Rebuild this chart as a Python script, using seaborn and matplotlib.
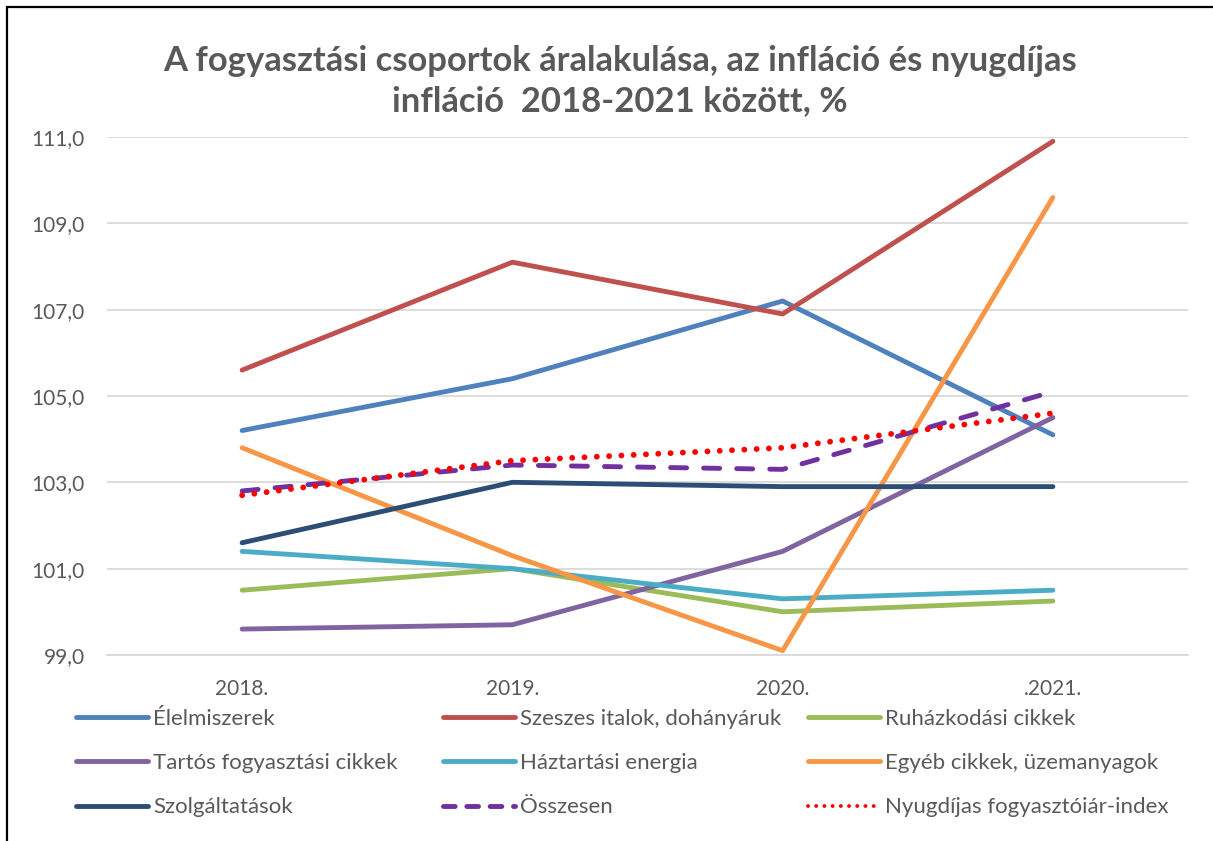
import matplotlib
matplotlib.use("Agg")
import matplotlib.pyplot as plt
import seaborn as sns
import pandas as pd
from matplotlib.lines import Line2D
from matplotlib.patches import Rectangle

years = ["2018.", "2019.", "2020.", ".2021."]

elelmiszerek = [104.2, 105.4, 107.2, 104.1]
szeszes = [105.6, 108.1, 106.9, 110.9]
ruhazkodasi = [100.5, 101.0, 100.0, 100.25]
tartos = [99.6, 99.7, 101.4, 104.5]
haztartasi = [101.4, 101.0, 100.3, 100.5]
egyeb = [103.8, 101.3, 99.1, 109.6]
szolgaltatasok = [101.6, 103.0, 102.9, 102.9]
osszesen = [102.8, 103.4, 103.3, 105.1]
nyugdijas = [102.7, 103.5, 103.8, 104.6]

series_names = ["Élelmiszerek", "Szeszes italok, dohányáruk", "Ruházkodási cikkek",
                "Tartós fogyasztási cikkek", "Háztartási energia", "Egyéb cikkek, üzemanyagok",
                "Szolgáltatások", "Összesen", "Nyugdíjas fogyasztóiár-index"]
series_values = [elelmiszerek, szeszes, ruhazkodasi, tartos, haztartasi, egyeb,
                 szolgaltatasok, osszesen, nyugdijas]
colors = ["#4F81BD", "#C0504D", "#9BBB59", "#8064A2", "#4BACC6", "#F79646",
          "#2C4D75", "#7030A0", "#FF0000"]
styles = ["solid"] * 7 + ["dashed", "dotted"]

yticks = [99, 101, 103, 105, 107, 109, 111]

rows = []
for name, vals in zip(series_names, series_values):
    for i, v in enumerate(vals):
        rows.append({"series": name, "pos": i, "value": v})
df = pd.DataFrame(rows)

sns.set_theme(style="white")
plt.rcParams["font.family"] = ["Lato", "DejaVu Sans"]

fig = plt.figure(figsize=(12.13, 8.41), dpi=100)
ax = fig.add_axes([0.0882, 0.2212, 0.9794 - 0.0882, 0.8371 - 0.2212])

LW = 3.5
handles = {}
for name, col, st in zip(series_names, colors, styles):
    sub = df[df["series"] == name]
    sns.lineplot(data=sub, x="pos", y="value", ax=ax, color=col, linewidth=LW,
                 legend=False, zorder=3)
    ln = ax.lines[-1]
    ln.set_solid_capstyle("round")
    ln.set_solid_joinstyle("round")
    ln.set_dash_capstyle("round")
    if st == "dashed":
        ln.set_dashes((3.3, 3.5))
    elif st == "dotted":
        ln.set_linewidth(4.2)
        ln.set_dashes((0.01, 2.1))
    h = Line2D([], [], color=col, linewidth=LW, solid_capstyle="round", dash_capstyle="round")
    if st == "dashed":
        h.set_dashes((2.4, 2.4))
    elif st == "dotted":
        h.set_linewidth(2.8)
        h.set_dashes((0.01, 2.1))
    handles[name] = h

ax.set_xlim(-0.5, 3.5)
ax.set_ylim(99, 111)
ax.set_yticks(yticks)
ax.set_yticklabels([f"{t:.1f}".replace(".", ",") for t in yticks])
ax.set_xticks(range(len(years)))
ax.set_xticklabels(years)
ax.set_xlabel("")
ax.set_ylabel("")
ax.grid(axis="y", color="#D9D9D9", linewidth=1.3, zorder=0)
ax.grid(axis="x", visible=False)
for s in ["top", "right", "left"]:
    ax.spines[s].set_visible(False)
ax.spines["bottom"].set_color("#D9D9D9")
ax.spines["bottom"].set_linewidth(1.3)
ax.tick_params(axis="both", length=0, labelsize=15, colors="#595959")
ax.tick_params(axis="y", pad=16)
ax.tick_params(axis="x", pad=17)

fig.text(0.511, 0.928, "A fogyasztási csoportok áralakulása, az infláció és nyugdíjas",
         ha="center", va="center", fontsize=24.9, fontweight="bold", color="#595959")
fig.text(0.511, 0.880, "infláció  2018-2021 között, %",
         ha="center", va="center", fontsize=24.9, fontweight="bold", color="#595959")

# legend in three columns, row-major order as in the reference
col_x = [0.0627, 0.3655, 0.666]
for c in range(3):
    names = [series_names[c], series_names[c + 3], series_names[c + 6]]
    leg = fig.legend([handles[n] for n in names], names, loc="upper left",
                     bbox_to_anchor=(col_x[c], 0.157), frameon=False,
                     fontsize=16, handlelength=3.24, handletextpad=0.22,
                     labelspacing=1.09, borderpad=0, borderaxespad=0)
    for t in leg.get_texts():
        t.set_color("#595959")

# chart frame (only left and top edges visible in the reference)
fig.patches.append(Rectangle((7 / 1213, -0.05), 1.1, 1 - 7 / 841 + 0.05,
                             transform=fig.transFigure, fill=False,
                             edgecolor="black", linewidth=1.6))

fig.savefig("out.png", dpi=100)
